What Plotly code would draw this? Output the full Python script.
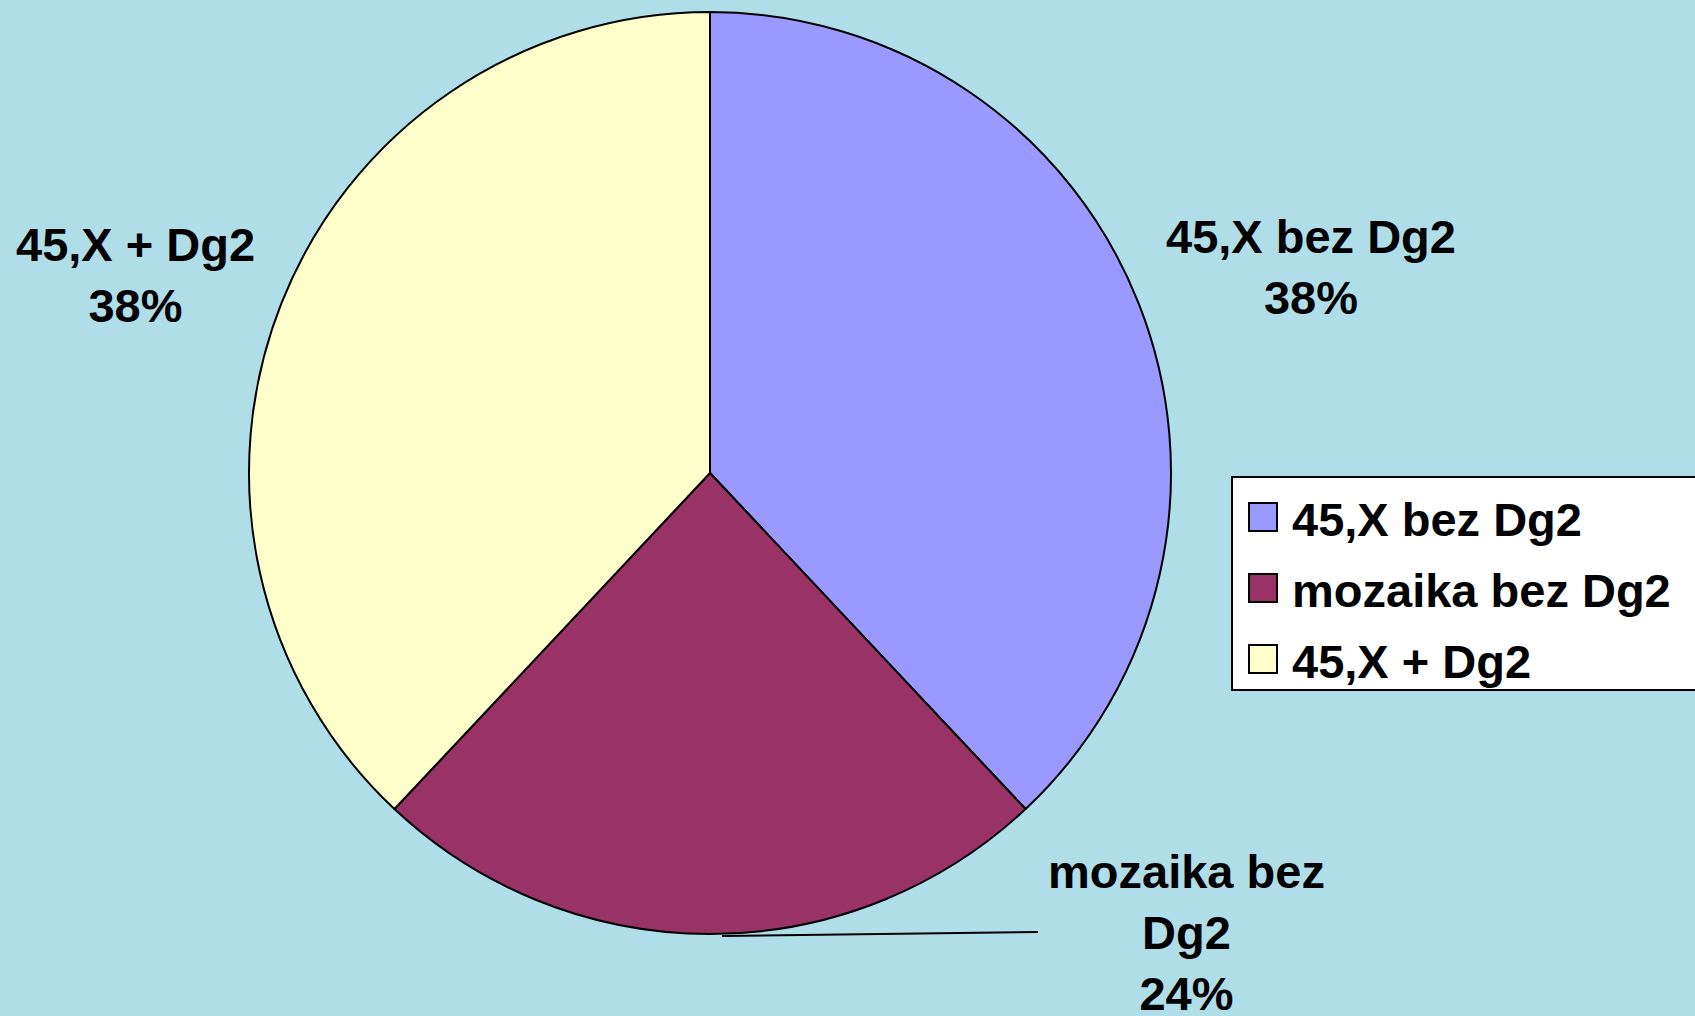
import math
import plotly.graph_objects as go

categories = ["45,X bez Dg2", "mozaika bez Dg2", "45,X + Dg2"]
values = [38, 24, 38]
slice_labels = ["45,X bez Dg2<br>38%", "mozaika bez<br>Dg2<br>24%", "45,X + Dg2<br>38%"]
colors = ["#9999FF", "#993366", "#FFFFCC"]

W, H = 1695, 1016
CX, CY, R = 710, 473, 461
BG = "#AFDEE8"
FONT = "Liberation Sans, Arial, sans-serif"
FS = 47


def px(x):
    return x / W


def py(y):
    return 1 - y / H


fig = go.Figure()
fig.add_trace(go.Pie(
    labels=categories,
    values=values,
    marker=dict(colors=colors, line=dict(color="black", width=2)),
    textinfo="none",
    sort=False,
    direction="clockwise",
    rotation=0,
    hoverinfo="skip",
    showlegend=False,
    domain=dict(x=[px(CX - R), px(CX + R)], y=[py(CY + R), py(CY - R)]),
))

# slice labels
label_pos = [(1311, 267), (1186, 932), (135, 275)]
annotations = []
for txt, (x, y) in zip(slice_labels, label_pos):
    annotations.append(dict(
        x=px(x), y=py(y), xref="paper", yref="paper",
        text="<b>" + txt + "</b>", showarrow=False,
        font=dict(family=FONT, size=FS, color="black"),
        xanchor="center", yanchor="middle", align="center",
    ))

shapes = []
# leader line for the small slice, from slice mid-angle on the rim
total = sum(values)
mid = (values[0] + values[1] / 2) / total * 2 * math.pi
sx = CX + R * math.sin(mid)
sy = CY - R * math.cos(mid)
shapes.append(dict(type="line", xref="paper", yref="paper",
                   x0=px(sx + 12), y0=py(sy + 2), x1=px(1038), y1=py(932),
                   line=dict(color="black", width=2)))

# manual legend
shapes.append(dict(type="rect", xref="paper", yref="paper",
                   x0=px(1232), y0=py(690), x1=px(1710), y1=py(477),
                   fillcolor="white", line=dict(color="black", width=2)))
for i, (cat, col) in enumerate(zip(categories, colors)):
    cy = 517 + 71 * i
    shapes.append(dict(type="rect", xref="paper", yref="paper",
                       x0=px(1249), y0=py(cy + 14), x1=px(1277), y1=py(cy - 14),
                       fillcolor=col, line=dict(color="black", width=2)))
    annotations.append(dict(
        x=px(1290), y=py(cy + 2), xref="paper", yref="paper",
        text="<b>" + cat + "</b>", showarrow=False,
        font=dict(family=FONT, size=FS, color="black"),
        xanchor="left", yanchor="middle",
    ))

fig.update_layout(
    width=W, height=H,
    margin=dict(l=0, r=0, t=0, b=0),
    paper_bgcolor=BG, plot_bgcolor=BG,
    annotations=annotations, shapes=shapes,
    showlegend=False,
)
fig.write_html("out.html",
               config={"displayModeBar": False},
               post_script="document.body.style.margin='0';document.body.style.overflow='hidden';")
